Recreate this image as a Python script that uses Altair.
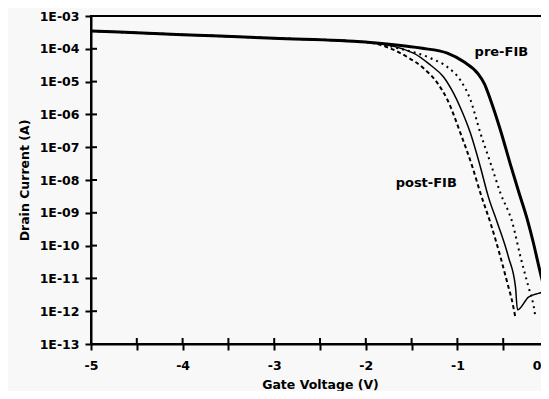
import altair as alt
import pandas as pd

# Gate voltage (V) and drain current (A)
v_pre = [-5, -4, -3, -2, -1.4, -1.11, -0.93, -0.78, -0.705, -0.639, -0.53, -0.42, -0.33, -0.235, -0.17, -0.115, -0.06, 0.0]
i_pre = [3.5e-4, 2.7e-4, 2.1e-4, 1.6e-4, 1.05e-4, 7.4e-5, 4.0e-5, 1.8e-5, 8.5e-6, 2.8e-6, 3.3e-7, 2.9e-8, 4.3e-9, 6.0e-10, 1.2e-10, 2.6e-11, 6.3e-12, 2.5e-12]

v_dot = [-5, -4, -3, -2, -1.62, -1.295, -1.11, -0.967, -0.858, -0.749, -0.639, -0.53, -0.399, -0.311, -0.224, -0.169, -0.148]
i_dot = [3.5e-4, 2.7e-4, 2.1e-4, 1.6e-4, 1.0e-4, 5.2e-5, 2.8e-5, 1.1e-5, 2.8e-6, 2.7e-7, 3.3e-8, 4.0e-9, 4.9e-10, 4.5e-11, 5.5e-12, 1.5e-12, 6.6e-13]

v_sol = [-5, -4, -3, -2, -1.48, -1.295, -1.153, -1.044, -0.967, -0.858, -0.749, -0.661, -0.563, -0.443, -0.366, -0.344, -0.224, -0.115, -0.038, 0.0]
i_sol = [3.5e-4, 2.7e-4, 2.1e-4, 1.6e-4, 7.4e-5, 3.2e-5, 1.4e-5, 4.5e-6, 1.6e-6, 2.7e-7, 2.5e-8, 3.0e-9, 4.9e-10, 4.5e-11, 5.5e-12, 1.1e-12, 2.7e-12, 3.5e-12, 3.9e-12, 3.3e-12]

v_dash = [-5, -4, -3, -2, -1.546, -1.372, -1.219, -1.109, -0.967, -0.836, -0.749, -0.639, -0.53, -0.443, -0.41, -0.366]
i_dash = [3.5e-4, 2.7e-4, 2.1e-4, 1.6e-4, 5.6e-5, 2.6e-5, 9.1e-6, 2.8e-6, 2.7e-7, 2.5e-8, 4.0e-9, 4.9e-10, 4.5e-11, 5.5e-12, 2.5e-12, 6.2e-13]

x_ticks = [-5, -4.5, -4, -3.5, -3, -2.5, -2, -1.5, -1, -0.5, 0]
y_ticks = [1e-13, 1e-12, 1e-11, 1e-10, 1e-9, 1e-8, 1e-7, 1e-6, 1e-5, 1e-4, 1e-3]

ann_text = ["pre-FIB", "post-FIB"]
ann_v = [-0.52, -1.34]
ann_i = [7.9e-5, 8.1e-9]

FONT = "DejaVu Sans"
W, H = 458, 328

x_scale = alt.Scale(domain=[-5, 0], nice=False, zero=False)
y_scale = alt.Scale(type="log", domain=[1e-13, 1e-3], nice=False)

x_axis = alt.Axis(
    title="Gate Voltage (V)", values=x_ticks,
    labelExpr="datum.value % 1 == 0 ? '' + datum.value : ''",
    labelAlign=alt.ConditionalAxisLabelAlign(condition={"test": "datum.value == 0", "value": "right"}, value="center"),
    labelOffset=alt.ConditionalAxisNumber(condition={"test": "datum.value == 0", "value": -8}, value=0),
    titlePadding=7,
)
y_axis = alt.Axis(
    title="Drain Current (A)", values=y_ticks,
    labelExpr="'1E-' + (round(-log(datum.value)/LN10) < 10 ? '0' : '') + round(-log(datum.value)/LN10)",
    titlePadding=8,
)

X = alt.X("v:Q", scale=x_scale, axis=x_axis)
Y = alt.Y("i:Q", scale=y_scale, axis=y_axis)


def frame(vs, cs):
    return pd.DataFrame({"v": vs, "i": cs})


pre = alt.Chart(frame(v_pre, i_pre)).mark_line(color="black", strokeWidth=3, interpolate="monotone").encode(x=X, y=Y, order="v:Q")
dot = alt.Chart(frame(v_dot, i_dot)).mark_line(color="black", strokeWidth=2, strokeDash=[2, 4], interpolate="monotone").encode(x=X, y=Y, order="v:Q")
sol = alt.Chart(frame(v_sol, i_sol)).mark_line(color="black", strokeWidth=1.5, interpolate="monotone").encode(x=X, y=Y, order="v:Q")
dash = alt.Chart(frame(v_dash, i_dash)).mark_line(color="black", strokeWidth=2, strokeDash=[4, 3], interpolate="monotone").encode(x=X, y=Y, order="v:Q")

xt = alt.Chart(pd.DataFrame({"v": x_ticks})).mark_rule(color="black", strokeWidth=2).encode(
    x=X, y=alt.value(H), y2=alt.value(H - 6))
yt = alt.Chart(pd.DataFrame({"i": y_ticks})).mark_rule(color="black", strokeWidth=2).encode(
    y=Y, x=alt.value(0), x2=alt.value(6))

ann = alt.Chart(pd.DataFrame({"v": ann_v, "i": ann_i, "t": ann_text})).mark_text(
    font=FONT, fontSize=13, fontWeight="bold", color="black", align="center", baseline="middle"
).encode(x=X, y=Y, text="t:N")

chart = alt.layer(dash, sol, dot, pre, xt, yt, ann).properties(
    width=W, height=H,
    autosize=alt.AutoSizeParams(type="none"),
    padding={"left": 83, "top": 8, "right": -8, "bottom": 47},
    background="#f8f8f8",
).configure_view(
    stroke="black", strokeWidth=2
).configure_axis(
    grid=False,
    domainColor="black", domainWidth=2,
    tickColor="black", tickWidth=2, tickSize=6,
    labelFont=FONT, labelFontWeight="bold", labelFontSize=12.5, labelColor="black",
    titleFont=FONT, titleFontWeight="bold", titleFontSize=12.5, titleColor="black",
).configure_axisX(labelPadding=9).configure_axisY(labelPadding=6)

chart.save("out.html", embed_options={"renderer": "svg", "actions": False})
